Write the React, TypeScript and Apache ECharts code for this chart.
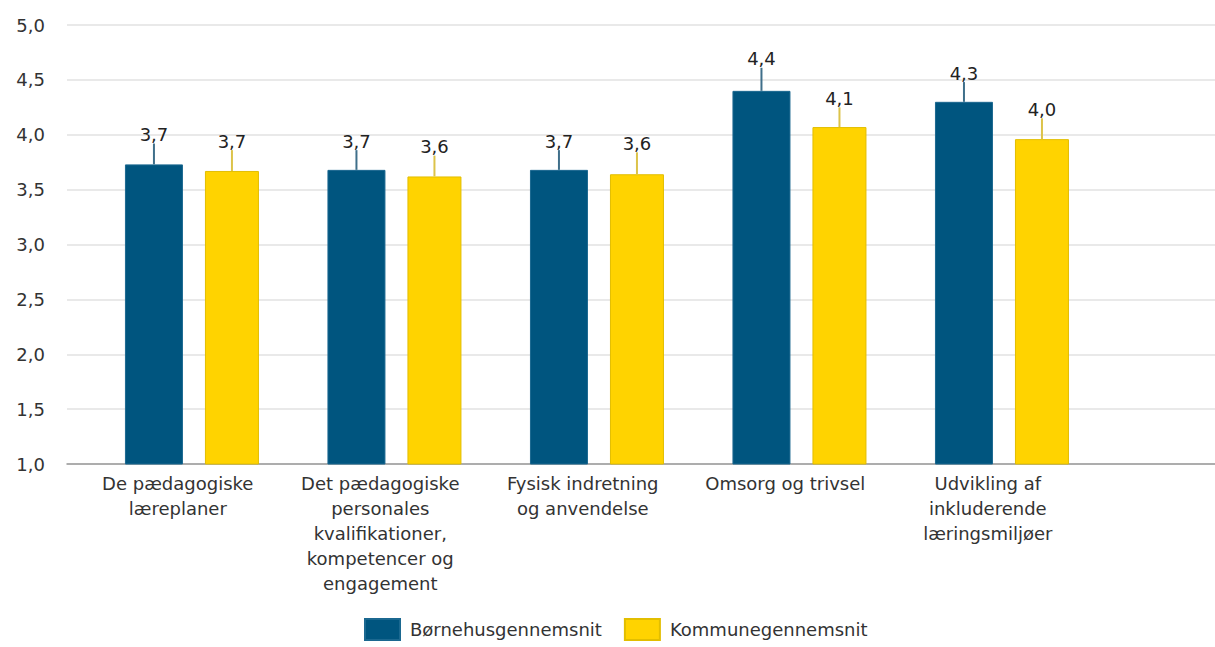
import React, { useEffect, useRef } from "react";
import * as echarts from "echarts";

const categories = [
  "De pædagogiske\nlæreplaner",
  "Det pædagogiske\npersonales\nkvalifikationer,\nkompetencer og\nengagement",
  "Fysisk indretning\nog anvendelse",
  "Omsorg og trivsel",
  "Udvikling af\ninkluderende\nlæringsmiljøer",
];
const seriesNames = ["Børnehusgennemsnit", "Kommunegennemsnit"];
const boernehusValues = [3.73, 3.68, 3.68, 4.4, 4.3];
const boernehusErrTop = [3.92, 3.86, 3.86, 4.61, 4.48];
const kommuneValues = [3.67, 3.62, 3.64, 4.07, 3.96];
const kommuneErrTop = [3.86, 3.81, 3.84, 4.25, 4.15];
const yTicks = [1.0, 1.5, 2.0, 2.5, 3.0, 3.5, 4.0, 4.5, 5.0];

const FONT = "DejaVu Sans";
const TEXT = "#333333";
const BLUE = "#00557F";
const YELLOW = "#FFD300";
const BW1 = 58;
const BW2 = 54;
const GAP = 22;
const TOTAL = BW1 + GAP + BW2;
const OFF1 = -TOTAL / 2 + BW1 / 2;
const OFF2 = -TOTAL / 2 + BW1 + GAP + BW2 / 2;

const fmt = (v: number) => v.toFixed(1).replace(".", ",");

function errSeries(values: number[], errs: number[], dx: number, lineColor: string) {
  return {
    type: "custom",
    name: "err",
    silent: true,
    z: 5,
    data: values.map((v, i) => [i, v, errs[i]]),
    encode: { x: 0, y: [1, 2] },
    renderItem: (params: any, api: any) => {
      const x = api.value(0);
      const v = api.value(1);
      const e = api.value(2);
      const base = api.coord([x, v]);
      const top = api.coord([x, e]);
      const px = base[0] + dx;
      return {
        type: "group",
        children: [
          {
            type: "line",
            shape: { x1: px, y1: base[1], x2: px, y2: top[1] },
            style: { stroke: lineColor, lineWidth: 2 },
          },
          {
            type: "text",
            x: px,
            y: top[1],
            style: {
              text: fmt(v),
              align: "center",
              verticalAlign: "bottom",
              fill: "#222",
              font: `18px "${FONT}"`,
            },
          },
        ],
      };
    },
  };
}

export default function App() {
  const ref = useRef<HTMLDivElement>(null);
  useEffect(() => {
    if (!ref.current) return;
    const chart = echarts.init(ref.current, null, { renderer: "svg" });
    const labelShift = 0.07;
    chart.setOption({
      animation: false,
      backgroundColor: "#ffffff",
      textStyle: { fontFamily: FONT },
      grid: { left: 67, right: 0, top: 25, bottom: 647 - 464 },
      legend: {
        data: seriesNames,
        left: 359,
        top: 613,
        itemWidth: 35,
        itemHeight: 21,
        itemGap: 22,
        icon: "rect",
        textStyle: { fontFamily: FONT, fontSize: 18, color: TEXT, padding: [0, 0, 0, 5] },
      },
      xAxis: {
        type: "value",
        min: -0.617,
        max: 5.052,
        splitLine: { show: false },
        axisTick: { show: false },
        axisLine: { show: true, lineStyle: { color: "#999999", width: 1.5 } },
        axisLabel: {
          customValues: categories.map((_, i) => i - labelShift),
          formatter: (v: number) => categories[Math.max(0, Math.round(v))],
          fontFamily: FONT,
          fontSize: 18,
          lineHeight: 25,
          color: TEXT,
          margin: 7,
          align: "center",
          verticalAlign: "top",
        },
      },
      yAxis: {
        type: "value",
        min: 1,
        max: 5,
        interval: 0.5,
        axisLine: { show: false },
        axisTick: { show: false },
        splitLine: { lineStyle: { color: "#e2e2e2", width: 1.5 } },
        axisLabel: {
          formatter: (v: number) => fmt(v),
          fontFamily: FONT,
          fontSize: 18,
          color: TEXT,
          margin: 22,
        },
      },
      series: [
        {
          type: "bar",
          name: seriesNames[0],
          data: boernehusValues.map((v, i) => [i, v]),
          barWidth: BW1,
          barGap: `${(GAP / BW1) * 100}%`,
          itemStyle: { color: BLUE, borderColor: "#1b6890", borderWidth: 1 },
        },
        {
          type: "bar",
          name: seriesNames[1],
          data: kommuneValues.map((v, i) => [i, v]),
          barWidth: BW2,
          itemStyle: { color: YELLOW, borderColor: "#E2BE00", borderWidth: 1 },
        },
        errSeries(boernehusValues, boernehusErrTop, OFF1, "#3f6f8a"),
        errSeries(kommuneValues, kommuneErrTop, OFF2, "#dcc34a"),
      ],
    });
    return () => chart.dispose();
  }, []);
  return (
    <div
      ref={ref}
      style={{ position: "absolute", left: 0, top: 0, width: 1215, height: 647 }}
    />
  );
}
